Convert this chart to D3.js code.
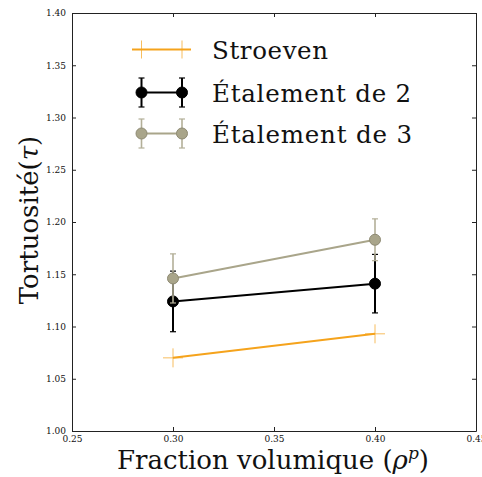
<!DOCTYPE html>
<html>
<head>
<meta charset="utf-8">
<script src="https://cdn.jsdelivr.net/npm/d3@7"></script>
<style>
html,body{margin:0;padding:0;background:#fff;}
svg{display:block;}
text{font-family:"DejaVu Serif",serif;fill:#111;}
</style>
</head>
<body>
<svg id="chart" width="482" height="477"></svg>
<script>
// ---- data ----
const xValues = [0.30, 0.40];
const stroevenValues = [1.070, 1.093];
const etal2Values = [1.124, 1.141];
const etal2Errors = [0.029, 0.028];
const etal3Values = [1.146, 1.183];
const etal3Errors = [0.0235, 0.020];
const xTicks = [0.25, 0.30, 0.35, 0.40, 0.45];
const yTicks = [1.00, 1.05, 1.10, 1.15, 1.20, 1.25, 1.30, 1.35, 1.40];
const seriesNames = ["Stroeven", "Étalement de 2", "Étalement de 3"];

const colOrange = "#f5a31c";
const colBlack = "#000000";
const colBeige = "#a9a58a";
const colBeigeErr = "#b3af98";
const colBeigeEdge = "#8e8a73";

const svg = d3.select("#chart");
const L = 72, R = 476, T = 13, B = 431;
const x = d3.scaleLinear().domain([0.25, 0.45]).range([L, R]);
const y = d3.scaleLinear().domain([1.00, 1.40]).range([B, T]);

// axes
const fmt = d3.format(".2f");
svg.append("g").attr("transform", `translate(0,${B})`)
  .call(d3.axisBottom(x).tickValues(xTicks).tickFormat(fmt).tickSizeInner(-4).tickSizeOuter(0).tickPadding(5))
  .call(g => g.selectAll("text").attr("font-family", "DejaVu Serif").attr("font-size", 9).attr("fill", "#111"));
svg.append("g").attr("transform", `translate(${L},0)`)
  .call(d3.axisLeft(y).tickValues(yTicks).tickFormat(fmt).tickSizeInner(-4).tickSizeOuter(0).tickPadding(6))
  .call(g => g.selectAll("text").attr("font-family", "DejaVu Serif").attr("font-size", 9).attr("fill", "#111"));
svg.append("g").attr("transform", `translate(0,${T})`)
  .call(d3.axisTop(x).tickValues(xTicks).tickFormat("").tickSizeInner(-4).tickSizeOuter(0));
svg.append("g").attr("transform", `translate(${R},0)`)
  .call(d3.axisRight(y).tickValues(yTicks).tickFormat("").tickSizeInner(-4).tickSizeOuter(0));
svg.selectAll(".domain").attr("stroke", "#222").attr("stroke-width", 1);
svg.selectAll(".tick line").attr("stroke", "#222");

const line = d3.line().x(d => x(d[0])).y(d => y(d[1]));

// Stroeven
svg.append("path").datum(xValues.map((v, i) => [v, stroevenValues[i]]))
  .attr("d", line).attr("fill", "none").attr("stroke", colOrange).attr("stroke-width", 2);
xValues.forEach((v, i) => {
  const cx = x(v), cy = y(stroevenValues[i]);
  svg.append("line").attr("x1", cx - 10).attr("x2", cx + 10).attr("y1", cy).attr("y2", cy)
    .attr("stroke", colOrange).attr("stroke-width", 1).attr("opacity", 0.7);
  svg.append("line").attr("x1", cx).attr("x2", cx).attr("y1", cy - 9.5).attr("y2", cy + 9.5)
    .attr("stroke", colOrange).attr("stroke-width", 1).attr("opacity", 0.7);
});

function errSeries(vals, errs, lineCol, errCol, fill, edge, errW) {
  svg.append("path").datum(xValues.map((v, i) => [v, vals[i]]))
    .attr("d", line).attr("fill", "none").attr("stroke", lineCol).attr("stroke-width", 2);
  xValues.forEach((v, i) => {
    const cx = x(v), y0 = y(vals[i] - errs[i]), y1 = y(vals[i] + errs[i]);
    svg.append("line").attr("x1", cx).attr("x2", cx).attr("y1", y0).attr("y2", y1)
      .attr("stroke", errCol).attr("stroke-width", errW);
    [y0, y1].forEach(yy => svg.append("line").attr("x1", cx - 3).attr("x2", cx + 3)
      .attr("y1", yy).attr("y2", yy).attr("stroke", errCol).attr("stroke-width", 1.2));
  });
  xValues.forEach((v, i) => {
    svg.append("circle").attr("cx", x(v)).attr("cy", y(vals[i])).attr("r", 5.5)
      .attr("fill", fill).attr("stroke", edge).attr("stroke-width", 1);
  });
}
errSeries(etal2Values, etal2Errors, colBlack, colBlack, colBlack, colBlack, 2);
errSeries(etal3Values, etal3Errors, colBeige, colBeigeErr, colBeige, colBeigeEdge, 1.6);

// legend
const lg = svg.append("g");
const rows = [49.5, 92.5, 133.5];
const hx0 = 132, hx1 = 191, m0 = 141.5, m1 = 182;
// Stroeven
lg.append("line").attr("x1", hx0).attr("x2", hx1).attr("y1", rows[0]).attr("y2", rows[0])
  .attr("stroke", colOrange).attr("stroke-width", 2);
[m0, m1].forEach(mx => lg.append("line").attr("x1", mx).attr("x2", mx).attr("y1", rows[0] - 9).attr("y2", rows[0] + 9)
  .attr("stroke", colOrange).attr("stroke-width", 1).attr("opacity", 0.7));
// error legends
function legErr(ry, lineCol, errCol, fill, edge, errW) {
  lg.append("line").attr("x1", m0).attr("x2", m1).attr("y1", ry).attr("y2", ry)
    .attr("stroke", lineCol).attr("stroke-width", 2);
  [m0, m1].forEach(mx => {
    lg.append("line").attr("x1", mx).attr("x2", mx).attr("y1", ry - 14.5).attr("y2", ry + 14.5)
      .attr("stroke", errCol).attr("stroke-width", errW);
    [ry - 14.5, ry + 14.5].forEach(yy => lg.append("line").attr("x1", mx - 3).attr("x2", mx + 3)
      .attr("y1", yy).attr("y2", yy).attr("stroke", errCol).attr("stroke-width", 1.2));
    lg.append("circle").attr("cx", mx).attr("cy", ry).attr("r", 5.5).attr("fill", fill)
      .attr("stroke", edge).attr("stroke-width", 1);
  });
}
legErr(rows[1], colBlack, colBlack, colBlack, colBlack, 2);
legErr(rows[2], colBeige, colBeigeErr, colBeige, colBeigeEdge, 1.6);
const legWidths = [116, 199, 200];
seriesNames.forEach((n, i) => {
  lg.append("text").attr("x", 212).attr("y", rows[i] + 9.5).attr("font-size", 24.5)
    .attr("textLength", legWidths[i]).attr("lengthAdjust", "spacing").text(n);
});

// axis labels
const xl = svg.append("text").attr("x", 273).attr("y", 469).attr("text-anchor", "middle").attr("font-size", 26);
xl.append("tspan").text("Fraction volumique (");
xl.append("tspan").attr("font-style", "italic").text("ρ");
xl.append("tspan").attr("font-style", "italic").attr("font-size", 17).attr("dy", -10).text("p");
xl.append("tspan").attr("dy", 10).text(")");

const yl = svg.append("text").attr("transform", "translate(38,220) rotate(-90)")
  .attr("text-anchor", "middle").attr("font-size", 26);
yl.append("tspan").text("Tortuosité(");
yl.append("tspan").attr("font-style", "italic").text("τ");
yl.append("tspan").text(")");
</script>
</body>
</html>
